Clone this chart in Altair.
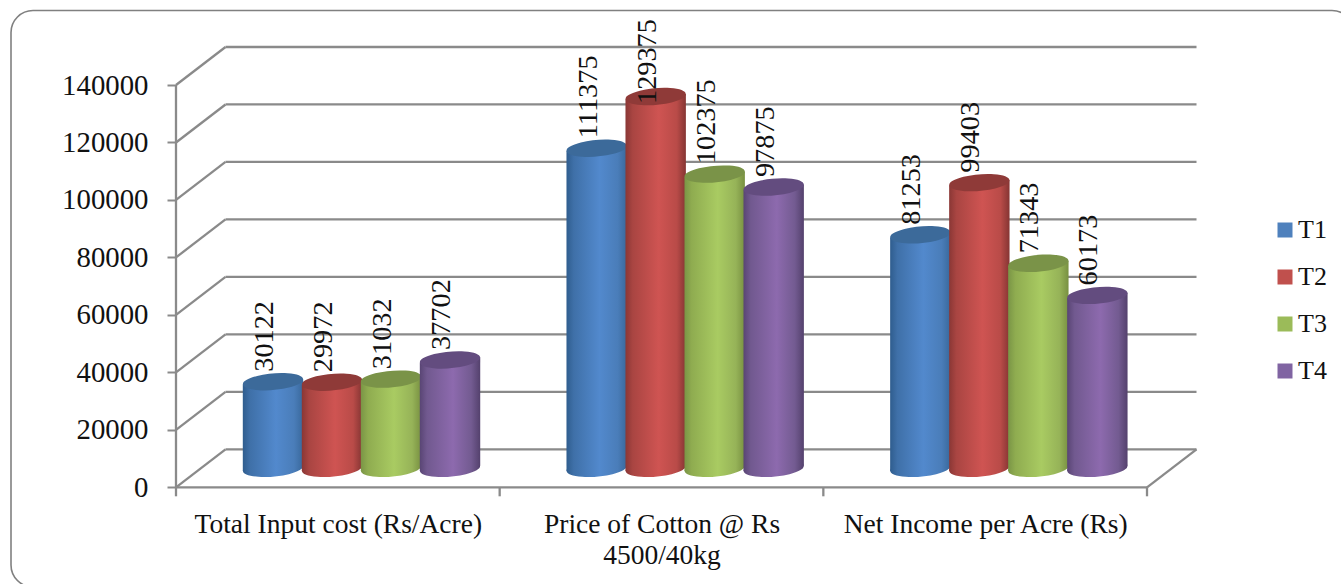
import altair as alt
import pandas as pd

# Chart values
categories = ["Total Input cost (Rs/Acre)", ["Price of Cotton @ Rs", "4500/40kg"], "Net Income per Acre (Rs)"]
series = ["T1", "T2", "T3", "T4"]
t1_values = [30122, 111375, 81253]
t2_values = [29972, 129375, 99403]
t3_values = [31032, 102375, 71343]
t4_values = [37702, 97875, 60173]
y_ticks = [0, 20000, 40000, 60000, 80000, 100000, 120000, 140000]
group_edges = [0, 1, 2, 3]

# Series colours: solid key, cylinder lid, and stops across the curved side
solid = ["#4F81BD", "#C0504D", "#9BBB59", "#8064A2"]
lids = ["#3C6A9A", "#8F3A38", "#7A9348", "#634C7F"]
sides = [
    ["#2F5D8E", "#3F70A8", "#5289CD", "#4A7DB9", "#39689B"],
    ["#8A3735", "#A94542", "#CF5452", "#B94B48", "#853533"],
    ["#7A9546", "#8FAC50", "#A9CB62", "#96B358", "#789041"],
    ["#594574", "#71598F", "#8D6AAE", "#735B91", "#54416D"],
]
grid_color = "#8A8A8A"
serif = "Liberation Serif"

W, H = 1341, 584
PX_PER_GROUP = 323.67
PX_PER_UNIT = 402.3 / 140000
X_ORIGIN, Y_ORIGIN = 176, 487.3

px_x = lambda px: px / PX_PER_GROUP
px_y = lambda px: px / PX_PER_UNIT

x_scale = alt.Scale(domain=[-X_ORIGIN / PX_PER_GROUP, (W - X_ORIGIN) / PX_PER_GROUP], nice=False, zero=False)
y_scale = alt.Scale(domain=[-(H - Y_ORIGIN) / PX_PER_UNIT, Y_ORIGIN / PX_PER_UNIT], nice=False, zero=False)

# Category captions are looked up by axis value; the middle one breaks over two lines
label_expr = (
    "datum.value < 1 ? '" + categories[0] + "' : datum.value < 2 ? ['"
    + categories[1][0] + "','" + categories[1][1] + "'] : '" + categories[2] + "'"
)
x_axis = alt.Axis(
    values=[0.5, 1.5, 2.5], labelExpr=label_expr, title=None, domain=False, ticks=False, grid=False,
    offset=-(H - Y_ORIGIN), labelFont=serif, labelFontSize=27.5, labelColor="#111111", labelLimit=500,
    labelPadding=23, labelLineHeight=31, labelOverlap=False, labelFlush=False, labelBound=False,
)
y_axis = alt.Axis(
    values=y_ticks, title=None, domain=False, grid=False, offset=-X_ORIGIN, tickSize=9, tickWidth=2,
    tickColor=grid_color, labelFont=serif, labelFontSize=28.8, labelColor="#111111", labelPadding=19,
    format="d", labelOverlap=False, labelBound=False, labelFlush=False,
)


def X(field):
    return alt.X(field, type="quantitative", scale=x_scale, axis=x_axis)


def Y(field):
    return alt.Y(field, type="quantitative", scale=y_scale, axis=y_axis)


# Floor and wall depth, cylinder placement and shape
DEPTH_X, DEPTH_Y = px_x(49.5), px_y(38)
MID_DEPTH = px_y(19)
FIRST_BAR, BAR_STEP = 0.2997, 0.1823
HALF_BAR = px_x(30.2)
TILT = px_y(2.6)
ELLIPSE = "M-0.996,0.087 A1,0.27 -5 1,1 0.996,-0.087 A1,0.27 -5 1,1 -0.996,0.087 Z"
ELLIPSE_SIZE = 3648
LABEL_DX, LABEL_DY = px_x(-8), px_y(10)
LABEL_CEILING = px_y(Y_ORIGIN - 104)

# Wall construction lines
walls = pd.DataFrame(
    [{"x": 0, "x2": DEPTH_X, "y": v, "y2": v + DEPTH_Y} for v in y_ticks]
    + [{"x": DEPTH_X, "x2": 3 + DEPTH_X, "y": v + DEPTH_Y, "y2": v + DEPTH_Y} for v in y_ticks]
    + [
        {"x": 0, "x2": 0, "y": 0, "y2": y_ticks[-1]},
        {"x": 0, "x2": 3, "y": 0, "y2": 0},
        {"x": 3, "x2": 3 + DEPTH_X, "y": 0, "y2": DEPTH_Y},
    ]
    + [{"x": e, "x2": e, "y": 0, "y2": -px_y(9)} for e in group_edges]
)
wall_layer = alt.Chart(walls).mark_rule(color=grid_color, strokeWidth=2.3).encode(
    x=X("x"), x2="x2:Q", y=Y("y"), y2="y2:Q"
)

# Rounded outline running past the right and bottom edges of the page
frame = alt.Chart(pd.DataFrame({"k": [0]})).mark_rect(
    fillOpacity=0, stroke="#808080", strokeWidth=1.6, cornerRadius=22
).encode(x=alt.value(11), x2=alt.value(1354), y=alt.value(10.5), y2=alt.value(587))

# One row per cylinder
rows = []
for s, (name, vals) in enumerate(zip(series, [t1_values, t2_values, t3_values, t4_values])):
    for g, v in enumerate(vals):
        c = g + FIRST_BAR + s * BAR_STEP
        rows.append({
            "series": name, "group": g, "value": v, "c": c,
            "x0": c - HALF_BAR + px_x(1), "x1": c + HALF_BAR - px_x(1),
            "base": MID_DEPTH, "top": v + MID_DEPTH,
            "label_x": c + LABEL_DX,
            "label_y": min(v + MID_DEPTH + LABEL_DY, LABEL_CEILING),
        })
bars = pd.DataFrame(rows)

# Flat underlay of each body; it also supplies the colour key
key_layer = alt.Chart(bars).mark_rect().encode(
    x=X("x0"), x2="x1:Q", y=Y("top"), y2="base:Q",
    color=alt.Color(
        "series:N",
        scale=alt.Scale(domain=series, range=solid),
        legend=alt.Legend(
            title=None, orient="none", legendX=1272, legendY=217, symbolType="square", symbolSize=225,
            symbolStrokeWidth=0, labelFont=serif, labelFontSize=26, labelColor="#111111", rowPadding=21,
            labelOffset=0, symbolOpacity=1,
        ),
    ),
)


def side_fill(stops):
    offsets = [0, 0.12, 0.55, 0.85, 1]
    return alt.LinearGradient(
        gradient="linear", x1=0, x2=1, y1=0, y2=0,
        stops=[alt.GradientStop(offset=o, color=col) for o, col in zip(offsets, stops)],
    )


cylinders = []
for s, name in enumerate(series):
    subset = bars[bars["series"] == name]
    # Slanted body between the two elliptical ends
    outline = []
    for _, r in subset.iterrows():
        outline.append({"group": r["group"], "x": r["c"] - HALF_BAR, "y": r["top"] - TILT, "y2": r["base"] - TILT})
        outline.append({"group": r["group"], "x": r["c"] + HALF_BAR, "y": r["top"] + TILT, "y2": r["base"] + TILT})
    fill = side_fill(sides[s])
    cylinders.append(
        alt.Chart(subset).mark_point(
            shape=ELLIPSE, size=ELLIPSE_SIZE, filled=True, fill=fill, opacity=1, strokeWidth=0
        ).encode(x=X("c"), y=Y("base"))
    )
    cylinders.append(
        alt.Chart(pd.DataFrame(outline)).mark_area(fill=fill, opacity=1, interpolate="linear").encode(
            x=X("x"), y=Y("y"), y2="y2:Q", detail="group:N"
        )
    )
    cylinders.append(
        alt.Chart(subset).mark_point(
            shape=ELLIPSE, size=ELLIPSE_SIZE, filled=True, fill=lids[s], opacity=1, strokeWidth=0
        ).encode(x=X("c"), y=Y("top"))
    )

value_labels = alt.Chart(bars).mark_text(
    angle=270, align="left", baseline="middle", font=serif, fontSize=28.3, color="#111111"
).encode(x=X("label_x"), y=Y("label_y"), text=alt.Text("value:Q", format="d"))

chart = alt.layer(frame, wall_layer, key_layer, *cylinders, value_labels).properties(
    width=W, height=H, padding=0, autosize=alt.AutoSizeParams(type="none"), background="white"
).configure_view(stroke=None)

chart.save("out.html", embed_options={"renderer": "svg", "actions": False})
